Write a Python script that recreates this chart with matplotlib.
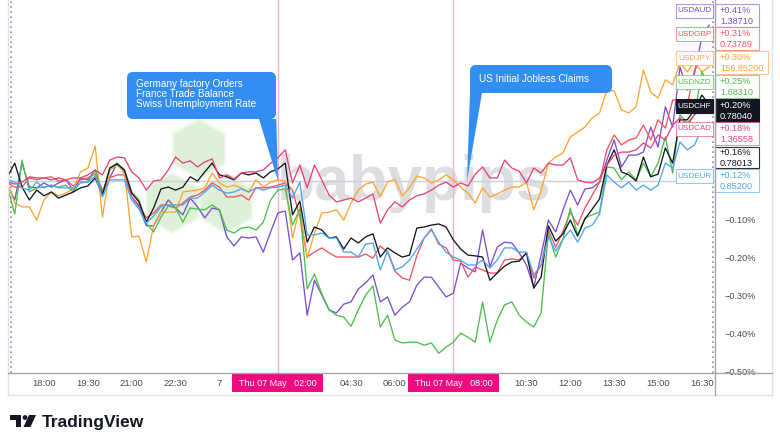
import numpy as np
import matplotlib
matplotlib.use("Agg")
import matplotlib.pyplot as plt
from matplotlib.patches import FancyBboxPatch, Polygon, Rectangle, Circle
from matplotlib.lines import Line2D
from matplotlib.transforms import IdentityTransform
from matplotlib.colors import to_rgba

plt.rcParams['font.family'] = ['Liberation Sans', 'DejaVu Sans']

W, H = 780, 447

# 15 minute closes, % change; time in hours from Thu 07 May 00:00
t_start = -7.25
t_step = 0.25

usdaud = [-0.011, -0.050, 0.047, -0.016, -0.018, -0.005, -0.016, -0.005, 0.003, -0.024,
          0.008, 0.003, 0.029, -0.029, 0.008, 0.047, 0.021, -0.042, -0.068, -0.118,
          -0.118, -0.082, -0.050, -0.071, -0.089, -0.045, -0.068, -0.097, -0.071, -0.076,
          -0.147, -0.171, -0.147, -0.150, -0.147, -0.187, -0.134, -0.084, -0.079, -0.208,
          -0.189, -0.353, -0.261, -0.300, -0.339, -0.347, -0.324, -0.318, -0.284, -0.268,
          -0.247, -0.318, -0.305, -0.353, -0.332, -0.318, -0.274, -0.253, -0.253, -0.279,
          -0.305, -0.295, -0.216, -0.229, -0.239, -0.129, -0.226, -0.174, -0.161, -0.163,
          -0.189, -0.221, -0.279, -0.195, -0.103, -0.134, -0.076, -0.024, -0.063, -0.021,
          -0.018, -0.003, 0.055, 0.108, 0.037, 0.068, 0.068, 0.076, 0.142, 0.089,
          0.195, 0.142, 0.300, 0.239, 0.284, 0.379, 0.410]

usdgbp = [-0.005, -0.016, -0.016, 0.008, 0.003, 0.008, 0.011, 0.000, 0.003, -0.013,
          0.003, 0.008, 0.018, -0.024, 0.008, 0.016, 0.016, -0.042, -0.063, -0.097,
          -0.084, -0.063, -0.063, -0.071, -0.058, -0.042, -0.037, -0.024, -0.005, -0.016,
          -0.042, -0.042, -0.037, -0.050, -0.018, -0.018, -0.016, -0.011, -0.005, -0.024,
          -0.095, -0.200, -0.187, -0.176, -0.189, -0.200, -0.200, -0.200, -0.200, -0.192,
          -0.203, -0.171, -0.187, -0.237, -0.255, -0.261, -0.197, -0.150, -0.126, -0.166,
          -0.176, -0.208, -0.211, -0.253, -0.226, -0.234, -0.242, -0.242, -0.208, -0.205,
          -0.208, -0.189, -0.255, -0.221, -0.129, -0.174, -0.132, -0.082, -0.116, -0.071,
          -0.037, -0.003, 0.082, 0.121, 0.095, 0.108, 0.113, 0.147, 0.108, 0.161,
          0.139, 0.213, 0.213, 0.200, 0.292, 0.324, 0.310]

usdjpy = [-0.005, -0.058, -0.068, -0.068, -0.103, -0.050, -0.029, -0.039, -0.032, -0.021,
          0.024, 0.034, 0.092, -0.095, 0.029, 0.042, 0.024, -0.147, -0.145, -0.213,
          -0.116, -0.082, -0.082, -0.082, -0.029, -0.026, -0.024, -0.018, 0.021, -0.005,
          -0.016, -0.011, -0.018, -0.029, 0.003, -0.016, -0.003, 0.003, 0.000, -0.150,
          -0.068, -0.203, -0.137, -0.084, -0.082, -0.076, -0.103, -0.058, -0.024, -0.008,
          -0.003, -0.042, -0.003, 0.005, -0.039, -0.018, 0.013, 0.008, -0.005, 0.003,
          0.016, 0.003, -0.016, -0.032, -0.058, -0.018, -0.042, -0.034, -0.024, -0.016,
          -0.016, -0.003, -0.076, -0.026, 0.047, 0.063, 0.074, 0.116, 0.129, 0.142,
          0.166, 0.179, 0.239, 0.237, 0.187, 0.179, 0.195, 0.292, 0.234, 0.218,
          0.266, 0.253, 0.311, 0.287, 0.313, 0.287, 0.300]

usdnzd = [-0.016, -0.087, 0.055, -0.029, -0.018, -0.016, -0.011, -0.016, -0.011, -0.029,
          -0.003, -0.003, 0.029, -0.034, 0.034, 0.047, 0.029, -0.029, -0.050, -0.111,
          -0.134, -0.095, -0.066, -0.071, -0.108, -0.071, -0.074, -0.076, -0.063, -0.076,
          -0.129, -0.137, -0.124, -0.121, -0.129, -0.108, -0.050, -0.024, -0.021, -0.116,
          -0.074, -0.284, -0.245, -0.297, -0.339, -0.353, -0.358, -0.382, -0.339, -0.300,
          -0.276, -0.384, -0.353, -0.418, -0.426, -0.424, -0.424, -0.432, -0.426, -0.453,
          -0.437, -0.424, -0.400, -0.411, -0.424, -0.318, -0.424, -0.366, -0.326, -0.318,
          -0.353, -0.371, -0.384, -0.347, -0.137, -0.200, -0.153, -0.071, -0.142, -0.097,
          -0.089, -0.082, 0.037, 0.034, 0.003, 0.024, 0.003, 0.047, 0.011, 0.047,
          0.116, 0.021, 0.174, 0.153, 0.174, 0.287, 0.250]

usdchf = [0.011, 0.047, -0.016, -0.050, -0.024, -0.039, -0.029, -0.045, -0.037, -0.029,
          -0.018, -0.013, 0.008, -0.037, 0.034, 0.045, 0.029, -0.032, -0.055, -0.108,
          -0.071, -0.021, -0.016, -0.024, -0.016, 0.011, 0.000, 0.024, 0.047, 0.016,
          0.011, 0.003, 0.021, 0.016, 0.021, 0.008, 0.024, 0.032, 0.047, -0.089,
          -0.053, -0.161, -0.121, -0.129, -0.150, -0.147, -0.179, -0.150, -0.163, -0.147,
          -0.139, -0.200, -0.176, -0.189, -0.200, -0.195, -0.124, -0.121, -0.116, -0.113,
          -0.121, -0.155, -0.179, -0.195, -0.197, -0.200, -0.261, -0.242, -0.224, -0.213,
          -0.211, -0.189, -0.282, -0.253, -0.118, -0.158, -0.139, -0.103, -0.145, -0.100,
          -0.074, -0.047, 0.042, 0.082, 0.024, 0.016, 0.000, 0.063, 0.011, 0.018,
          0.087, 0.047, 0.161, 0.161, 0.187, 0.226, 0.200]

usdcad = [-0.003, -0.008, -0.003, 0.011, 0.008, 0.008, 0.003, 0.008, 0.003, 0.008,
          0.008, 0.016, 0.029, 0.016, 0.055, 0.063, 0.061, 0.024, 0.008, -0.024,
          0.000, 0.003, 0.029, 0.063, 0.047, 0.053, 0.037, 0.050, 0.058, 0.008,
          0.016, 0.005, 0.021, 0.024, 0.024, 0.029, 0.047, 0.061, 0.082, -0.005,
          0.042, -0.018, 0.042, 0.003, -0.037, -0.055, -0.050, -0.045, -0.055, -0.045,
          -0.034, -0.111, -0.076, -0.055, -0.068, -0.050, -0.039, -0.034, -0.024, -0.011,
          -0.003, -0.016, -0.005, -0.013, 0.018, 0.037, 0.008, 0.008, 0.055, 0.034,
          0.026, -0.005, 0.034, 0.021, 0.047, 0.042, 0.042, 0.061, 0.003, -0.003,
          -0.005, 0.008, 0.042, 0.068, 0.076, 0.076, 0.082, 0.100, 0.087, 0.121,
          0.108, 0.147, 0.166, 0.147, 0.174, 0.192, 0.180]

usdeur = [0.003, -0.003, -0.018, -0.024, -0.003, -0.018, -0.011, -0.018, -0.018, -0.018,
          -0.005, -0.003, 0.013, -0.042, 0.003, 0.003, 0.003, -0.050, -0.074, -0.111,
          -0.092, -0.068, -0.063, -0.063, -0.063, -0.045, -0.045, -0.029, -0.011, -0.024,
          -0.032, -0.029, -0.021, -0.029, -0.018, -0.024, -0.018, -0.016, -0.011, -0.045,
          -0.003, -0.142, -0.142, -0.137, -0.150, -0.150, -0.187, -0.187, -0.200, -0.166,
          -0.163, -0.234, -0.184, -0.234, -0.226, -0.208, -0.179, -0.150, -0.129, -0.161,
          -0.187, -0.200, -0.208, -0.221, -0.221, -0.208, -0.229, -0.208, -0.176, -0.176,
          -0.187, -0.187, -0.247, -0.221, -0.147, -0.184, -0.153, -0.129, -0.161, -0.124,
          -0.116, -0.087, 0.016, -0.003, -0.018, -0.003, -0.024, -0.011, -0.024, -0.011,
          0.047, 0.034, 0.103, 0.082, 0.095, 0.139, 0.120]

tickers = ["USDAUD", "USDGBP", "USDJPY", "USDNZD", "USDCHF", "USDCAD", "USDEUR"]
last_prices = ["1.38710", "0.73789", "156.85200", "1.68310", "0.78040", "1.36558", "0.85200"]
colors = ["#7b4fd3", "#f7525f", "#ffa534", "#4cbf4c", "#131722", "#e9437b", "#4fa5f2"]
series = [usdaud, usdgbp, usdjpy, usdnzd, usdchf, usdcad, usdeur]
draw_order = [3, 0, 6, 1, 2, 5, 4]

chf_prev_chg = "+0.16%"
chf_prev_price = "0.78013"

xtick_pos = [-6, -4.5, -3, -1.5, 0, 4.5, 6, 10.5, 12, 13.5, 15, 16.5]
xtick_lab = ["18:00", "19:30", "21:00", "22:30", "7", "04:30", "06:00",
             "10:30", "12:00", "13:30", "15:00", "16:30"]
ytick_pos = [-0.1, -0.2, -0.3, -0.4, -0.5]

event_times = [2, 8]
event_labels = ["Thu 07 May   02:00", "Thu 07 May   08:00"]
session_breaks = [-7.13, 16.87]
callout1 = "Germany factory Orders\nFrance Trade Balance\nSwiss Unemployment Rate"
callout2 = "US Initial Jobless Claims"

px = IdentityTransform()


def P(x, y):
    # image pixel (top-left origin) -> display coords
    return (x, H - y)


fig = plt.figure(figsize=(W / 100, H / 100), dpi=100)
fig.patch.set_facecolor("white")

ax = fig.add_axes([8 / W, (H - 373) / H, 707 / W, 373 / H])
ax.set_xlim(-7.231, 16.948)
ax.set_ylim(-0.505, 0.476)
for sp in ax.spines.values():
    sp.set_visible(False)

# watermark
def hexagon(cx, cy, r, **kw):
    ang = np.deg2rad(90 + 60 * np.arange(6))
    pts = [P(cx + r * np.cos(a), cy - r * np.sin(a)) for a in ang]
    return Polygon(pts, closed=True, transform=px, **kw)

for cx, cy in [(199, 149), (172, 203), (226, 203)]:
    ax.add_patch(hexagon(cx, cy, 30, fc="#def1d8", ec="#eff8ec", lw=1.5, zorder=0.3))
ax.text(*P(414, 200), "babypips", transform=px, fontsize=45, fontweight="bold",
        color="#dddee1", ha="center", va="baseline", zorder=0.4)

ax.axhline(0, color="#cdd0d6", lw=1.0, zorder=1)
for tb in session_breaks:
    ax.axvline(tb, color="#8d9098", lw=1.2, ls=(0, (1, 2)), zorder=1)
for te in event_times:
    ax.axvline(te, color="#f7b0cf", lw=1.0, zorder=1)

t = t_start + t_step * np.arange(len(usdaud))
for k in draw_order:
    ax.plot(t, series[k], color=colors[k], lw=0.95, zorder=3 + k * 0.1)

ax.set_xticks(xtick_pos, xtick_lab)
ax.tick_params(axis="x", length=0, pad=4.5, labelsize=6.8, labelcolor="#4a4c52")
ax.yaxis.tick_right()
ax.set_yticks(ytick_pos, ["\u2212%.2f%%" % abs(v) for v in ytick_pos])
ax.tick_params(axis="y", length=0, pad=7, labelsize=6.6, labelcolor="#4a4c52")

# event date boxes on the time axis
bw = 91 / 29.24
for te, lab in zip(event_times, event_labels):
    ax.add_patch(Rectangle((te - bw / 2, -0.052), bw, 0.052, transform=ax.get_xaxis_transform(),
                           fc="#ef0a80", ec="none", clip_on=False, zorder=5))
    ax.text(te, -0.027, lab, transform=ax.get_xaxis_transform(), ha="center", va="center",
            color="white", fontsize=6.5, clip_on=False, zorder=6)

# callouts
blue = "#338ef2"
fig.add_artist(FancyBboxPatch(P(127, 119), 149, 47, boxstyle="round,pad=0,rounding_size=6",
                              transform=px, fc=blue, ec="none"))
fig.add_artist(Polygon([P(276, 108), P(278, 181), P(259, 119), P(276, 119)],
                       transform=px, fc=blue, ec="none"))
fig.text(*P(136, 94), callout1, transform=px, color="white", fontsize=7.2,
         va="center", ha="left", linespacing=1.02)

fig.add_artist(FancyBboxPatch(P(470, 93), 142, 28, boxstyle="round,pad=0,rounding_size=6",
                              transform=px, fc=blue, ec="none"))
fig.add_artist(Polygon([P(470, 84), P(482, 93), P(467, 181), P(470, 93)],
                       transform=px, fc=blue, ec="none"))
fig.text(*P(479, 79), callout2, transform=px, color="white", fontsize=7.2, va="center", ha="left")

# frame lines
frame = "#e0e3eb"
axis_c = "#a3a6af"
for xs, ys, c in [([8, 8], [0, 395], frame), ([8, 772], [395, 395], frame),
                  ([772, 772], [0, 395], frame), ([8, 772], [373, 373], axis_c),
                  ([714.5, 714.5], [0, 395], axis_c)]:
    fig.add_artist(Line2D(xs, [H - y for y in ys], transform=px, color=c, lw=1.0))

# price scale labels
row_tops = [4, 27, 51, 75, 99, 122, 169]
for name, price, col, s, top in zip(tickers, last_prices, colors, series, row_tops):
    dark = name == "USDCHF"
    fc = col if dark else "white"
    tc = "white" if dark else col
    ec = col if dark else to_rgba(col, 0.6)
    fig.add_artist(Rectangle(P(676, top + 14), 37, 14, transform=px, fc=fc, ec=ec, lw=0.8))
    fig.text(*P(694.5, top + 7), name, transform=px, fontsize=5.9, color=tc,
             ha="center", va="center")
    w = 12 + 4.6 * len(price)
    fig.add_artist(Rectangle(P(715, top + 23), w, 23, transform=px, fc=fc, ec=ec, lw=0.8))
    fig.text(*P(720, top + 6.5), "%+.2f%%" % s[-1], transform=px, fontsize=6.6, color=tc, va="center")
    fig.text(*P(720, top + 17.5), price, transform=px, fontsize=6.6, color=tc, va="center")

fig.add_artist(Rectangle(P(715, 168), 44, 21, transform=px, fc="white", ec="#333333", lw=0.8))
fig.text(*P(720, 152.5), chf_prev_chg, transform=px, fontsize=6.6, color="#131722", va="center")
fig.text(*P(720, 163), chf_prev_price, transform=px, fontsize=6.6, color="#131722", va="center")

# TradingView logo
dk = "#131722"
fig.add_artist(Rectangle(P(10, 419.5), 11, 4.5, transform=px, fc=dk, ec="none"))
fig.add_artist(Rectangle(P(15.5, 427), 5.5, 12, transform=px, fc=dk, ec="none"))
fig.add_artist(Circle(P(25, 417.5), 2.4, transform=px, fc=dk, ec="none"))
fig.add_artist(Polygon([P(29, 415), P(36, 415), P(30.5, 427), P(23.5, 427)],
                       transform=px, fc=dk, ec="none"))
fig.text(*P(42, 427), "TradingView", transform=px, fontsize=12.5, fontweight="bold",
         color=dk, va="baseline", ha="left")

fig.savefig("out.png", dpi=100)
